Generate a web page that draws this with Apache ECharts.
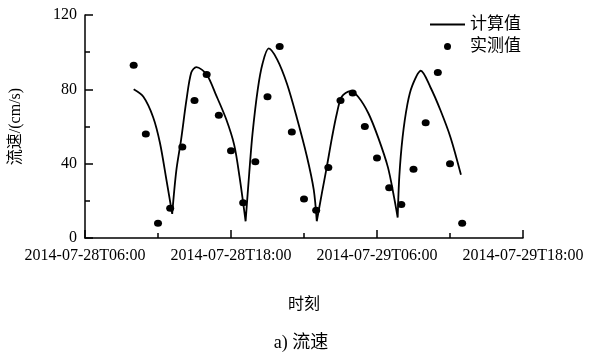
<!DOCTYPE html>
<html>
<head>
<meta charset="utf-8">
<script src="https://cdn.jsdelivr.net/npm/echarts@6/dist/echarts.min.js"></script>
<style>html,body{margin:0;padding:0;background:#fff}#c{width:602px;height:352px}</style>
</head>
<body>
<div id="c"></div>
<script>
const baseTime = '2014-07-28T06:00';
const xTickLabels = ['2014-07-28T06:00', '2014-07-28T18:00', '2014-07-29T06:00', '2014-07-29T18:00'];
const yTickLabels = ['0', '40', '80', '120'];

const measTime = [
  '2014-07-28T10:00','2014-07-28T11:00','2014-07-28T12:00','2014-07-28T13:00','2014-07-28T14:00',
  '2014-07-28T15:00','2014-07-28T16:00','2014-07-28T17:00','2014-07-28T18:00','2014-07-28T19:00',
  '2014-07-28T20:00','2014-07-28T21:00','2014-07-28T22:00','2014-07-28T23:00','2014-07-29T00:00',
  '2014-07-29T01:00','2014-07-29T02:00','2014-07-29T03:00','2014-07-29T04:00','2014-07-29T05:00',
  '2014-07-29T06:00','2014-07-29T07:00','2014-07-29T08:00','2014-07-29T09:00','2014-07-29T10:00',
  '2014-07-29T11:00','2014-07-29T12:00','2014-07-29T13:00'
];
const measValue = [93,56,8,16,49,74,88,66,47,19,41,76,103,57,21,15,38,74,78,60,43,27,18,37,62,89,40,8];

// computed curve; null entries break the line at the cusps
const calcTime = [
  '2014-07-28T10:00','2014-07-28T10:48','2014-07-28T11:36','2014-07-28T12:10','2014-07-28T12:42','2014-07-28T13:10',
  '2014-07-28T13:10',
  '2014-07-28T13:10','2014-07-28T13:30','2014-07-28T13:54','2014-07-28T14:20','2014-07-28T14:44','2014-07-28T15:09',
  '2014-07-28T16:00','2014-07-28T16:46','2014-07-28T17:36','2014-07-28T18:16','2014-07-28T18:42','2014-07-28T19:12',
  '2014-07-28T19:12',
  '2014-07-28T19:12','2014-07-28T19:30','2014-07-28T19:46','2014-07-28T20:12','2014-07-28T20:36','2014-07-28T21:06',
  '2014-07-28T21:48','2014-07-28T22:36','2014-07-28T23:24','2014-07-29T00:14','2014-07-29T00:48','2014-07-29T01:03',
  '2014-07-29T01:03',
  '2014-07-29T01:03','2014-07-29T01:28','2014-07-29T01:52','2014-07-29T02:18','2014-07-29T02:42','2014-07-29T03:06',
  '2014-07-29T03:48','2014-07-29T04:27','2014-07-29T05:18','2014-07-29T06:06','2014-07-29T06:54','2014-07-29T07:24','2014-07-29T07:42',
  '2014-07-29T07:42',
  '2014-07-29T07:42','2014-07-29T07:50','2014-07-29T08:06','2014-07-29T08:30','2014-07-29T08:54','2014-07-29T09:36',
  '2014-07-29T10:24','2014-07-29T11:12','2014-07-29T12:03','2014-07-29T12:54'
];
const calcValue = [
  80,76,65,51,31,13,
  null,
  13,36,53,74,89,92,88,77,64,50,33,9,
  null,
  9,35,56,80,94,102,96,83,65,44,26,9,
  null,
  9,24,38,54,67,76,79,76,67,54,38,22,11,
  null,
  11,33,54,72,82,90,81,69,54,34
];

const base = Date.parse(baseTime + ':00Z');
function hours(t) { return (Date.parse(t + ':00Z') - base) / 3600000; }

const measData = measTime.map((t, i) => [hours(t), measValue[i]]);
const calcData = calcTime.map((t, i) => [hours(t), calcValue[i] == null ? '-' : calcValue[i]]);

const serif = "'Liberation Serif', 'Times New Roman', 'Noto Sans CJK SC', serif";
const axisStyle = { color: '#000', width: 1.5 };

const chart = echarts.init(document.getElementById('c'));
chart.setOption({
  animation: false,
  backgroundColor: '#fff',
  textStyle: { fontFamily: serif, color: '#000' },
  title: {
    text: 'a) 流速', left: 'center', top: 329,
    textStyle: { fontFamily: serif, fontSize: 18, fontWeight: 'normal', color: '#000' }
  },
  legend: {
    orient: 'vertical', left: 425, top: 11, itemGap: 5,
    itemWidth: 35, itemHeight: 7,
    textStyle: { fontFamily: serif, fontSize: 17, color: '#000', lineHeight: 17 },
    data: [
      { name: '计算值', icon: 'path://M0,0L0.01,0L0.01,0.01ZM0,2.6L35,2.6L35,4.4L0,4.4ZM0,7L0.01,7L0.01,6.99Z',
        itemStyle: { color: '#000', borderWidth: 0 } },
      { name: '实测值', icon: 'circle', itemStyle: { color: '#000', opacity: 1 } }
    ]
  },
  grid: { left: 81, right: 79, top: 15, bottom: 114 },
  xAxis: {
    type: 'value', min: 0, max: 36, interval: 12,
    name: '时刻', nameLocation: 'middle', nameGap: 59,
    nameTextStyle: { fontFamily: serif, fontSize: 16, color: '#000' },
    axisLine: { lineStyle: axisStyle },
    axisTick: { inside: true, length: 8, lineStyle: axisStyle },
    minorTick: { show: true, splitNumber: 2, length: 5, lineStyle: axisStyle },
    splitLine: { show: false },
    axisLabel: {
      margin: 10, fontFamily: serif, fontSize: 16, color: '#000',
      formatter: v => xTickLabels[Math.round(v / 12)]
    }
  },
  yAxis: {
    type: 'value', min: 0, max: 120, interval: 40,
    name: '流速/(cm/s)', nameLocation: 'middle', nameGap: 61, nameRotate: 90,
    nameTextStyle: { fontFamily: serif, fontSize: 16, color: '#000' },
    axisLine: { show: true, lineStyle: axisStyle },
    axisTick: { show: true, inside: true, length: 8, lineStyle: axisStyle },
    minorTick: { show: true, splitNumber: 2, length: 5, lineStyle: axisStyle },
    splitLine: { show: false },
    axisLabel: {
      margin: 8, fontFamily: serif, fontSize: 16, color: '#000',
      formatter: v => yTickLabels[Math.round(v / 40)]
    }
  },
  series: [
    {
      name: '计算值', type: 'line', data: calcData, symbol: 'none',
      smooth: 0.3, connectNulls: false,
      lineStyle: { color: '#000', width: 1.8 },
      itemStyle: { color: '#000' }
    },
    {
      name: '实测值', type: 'scatter', data: measData,
      symbol: 'circle', symbolSize: [8, 7],
      itemStyle: { color: '#000', opacity: 1 }
    }
  ]
});
</script>
</body>
</html>
